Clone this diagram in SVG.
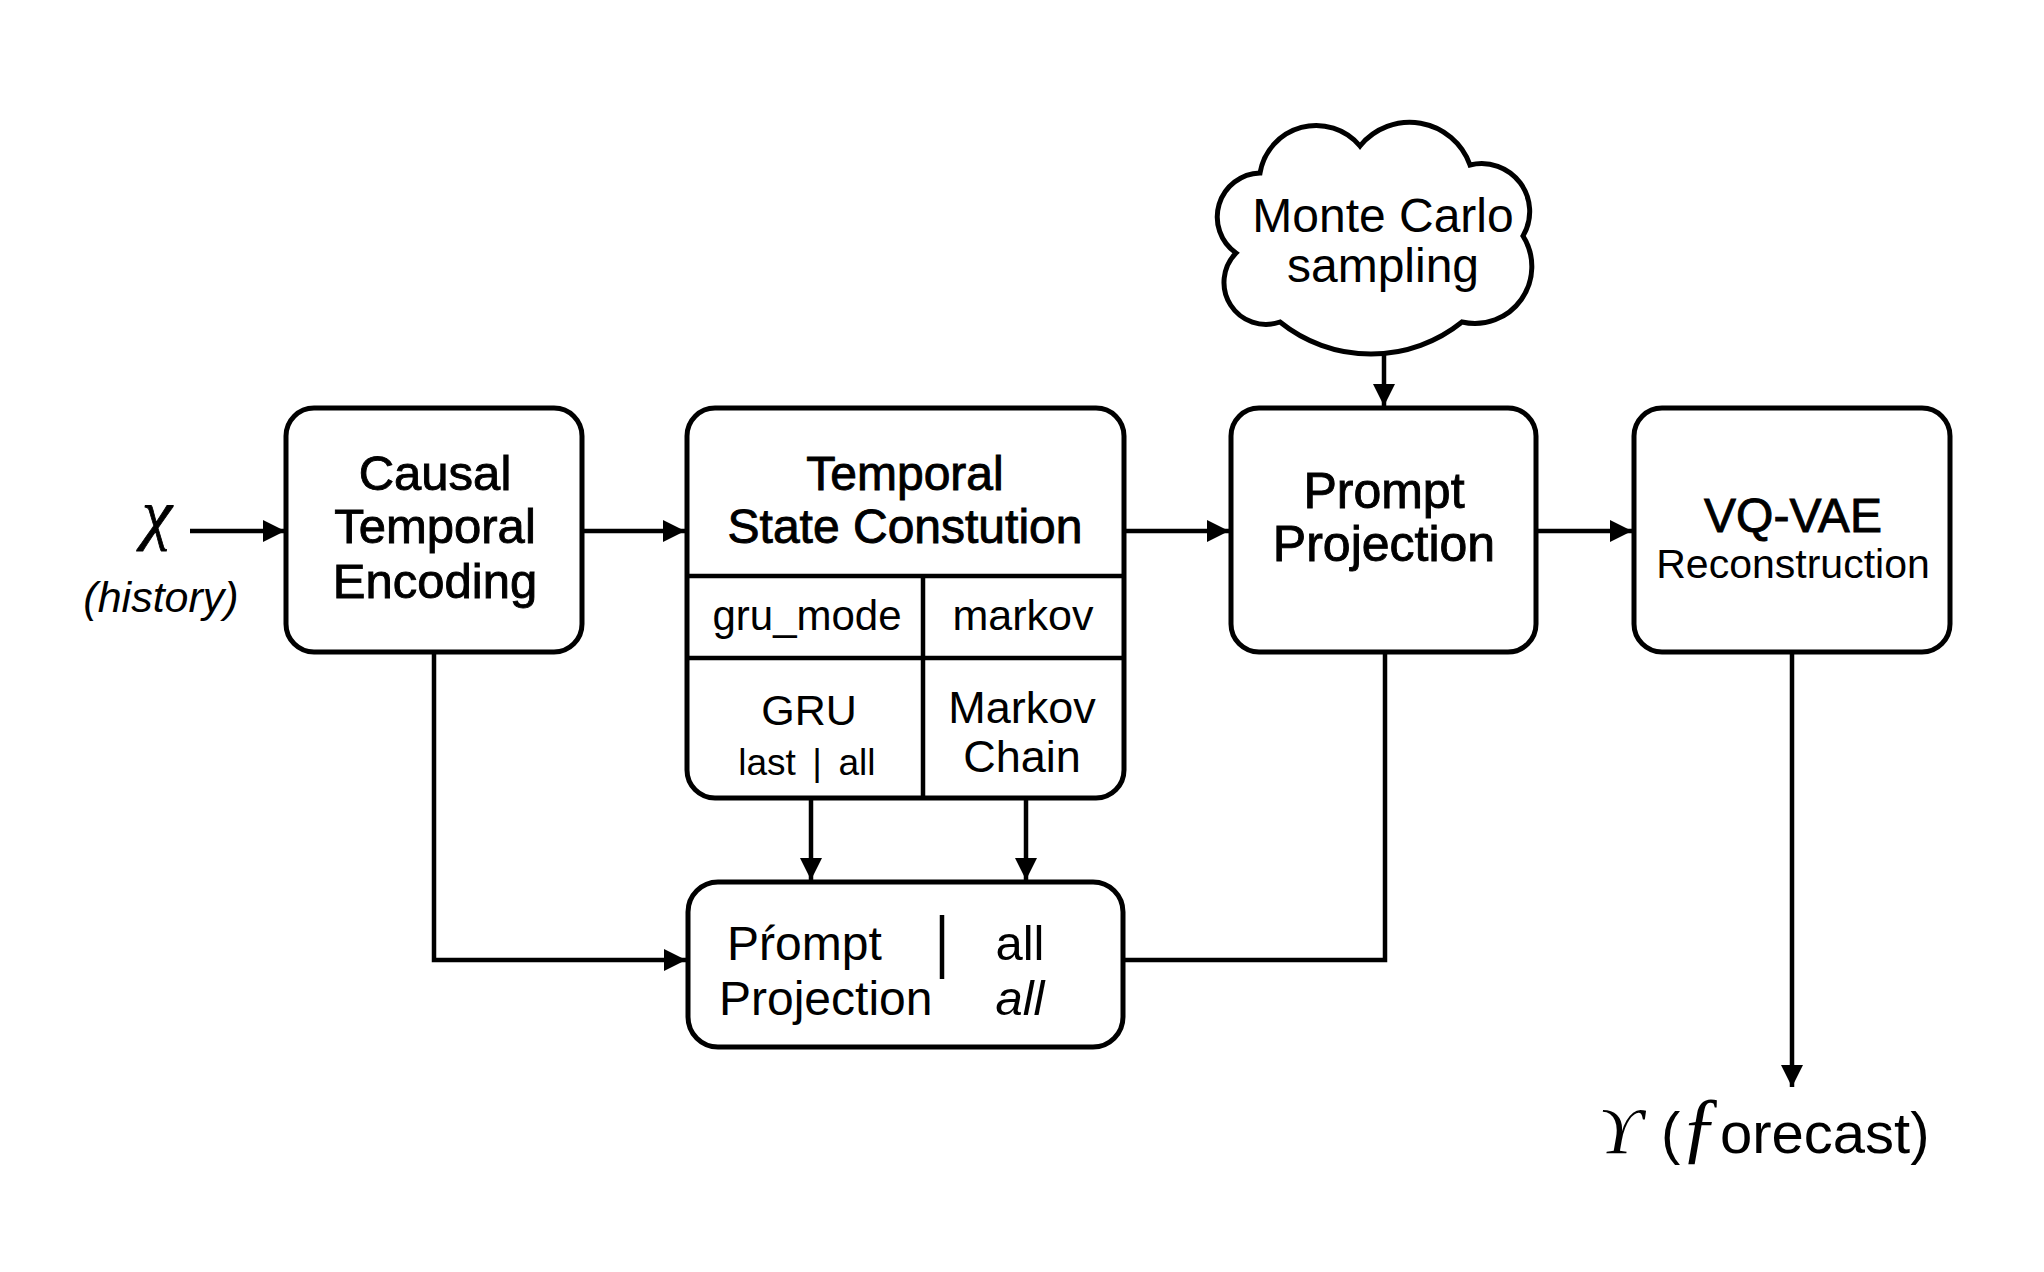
<svg xmlns="http://www.w3.org/2000/svg" width="2044" height="1272" viewBox="0 0 2044 1272">
<style>
.bx{fill:#fff;stroke:#000;stroke-width:5}
.ln{fill:none;stroke:#000;stroke-width:4.5}
.t{font-family:"Liberation Sans",Arial,sans-serif;fill:#000}
.m{text-anchor:middle}
.h{stroke:#000;stroke-width:0.9}
.s{font-family:"Liberation Serif","DejaVu Serif",serif;font-style:italic;fill:#000}
</style>
<defs>
<marker id="ah" markerUnits="userSpaceOnUse" markerWidth="22" markerHeight="22" refX="22" refY="11" orient="auto">
<path d="M0,0 L22,11 L0,22 z" fill="#000"/>
</marker>
</defs>
<rect width="2044" height="1272" fill="#fff"/>

<g id="connectors">
<path class="ln" d="M190,531 H285" marker-end="url(#ah)"/>
<path class="ln" d="M583,531 H685" marker-end="url(#ah)"/>
<path class="ln" d="M1126,531 H1229" marker-end="url(#ah)"/>
<path class="ln" d="M1538,531 H1632" marker-end="url(#ah)"/>
<path class="ln" d="M1384,355 V406" marker-end="url(#ah)"/>
<path class="ln" d="M811,798 V880" marker-end="url(#ah)"/>
<path class="ln" d="M1026,798 V880" marker-end="url(#ah)"/>
<path class="ln" d="M434,652 V960 H686" marker-end="url(#ah)"/>
<path class="ln" d="M1124,960 H1385 V652"/>
<path class="ln" d="M1792,652 V1087" marker-end="url(#ah)"/>
</g>

<g id="input">
<text class="s m" x="157" y="537" font-size="68" stroke="#000" stroke-width="0.8">χ</text>
<text class="t m" x="161" y="612" font-size="43" font-style="italic">(history)</text>
</g>

<g id="causal">
<rect class="bx" x="286" y="408" width="296" height="244" rx="28"/>
<text class="t m h" x="435" y="490" font-size="49">Causal</text>
<text class="t m h" x="435" y="543" font-size="49">Temporal</text>
<text class="t m h" x="435" y="598" font-size="49">Encoding</text>
</g>

<g id="temporal-state">
<rect class="bx" x="687" y="408" width="437" height="390" rx="28"/>
<path class="ln" d="M687,576 H1124 M687,658 H1124 M923,576 V798"/>
<text class="t m h" x="905" y="490" font-size="48">Temporal</text>
<text class="t m h" x="905" y="543" font-size="48">State Constution</text>
<text class="t m" x="807" y="630" font-size="42">gru_mode</text>
<text class="t m" x="1023" y="630" font-size="43">markov</text>
<text class="t m" x="809" y="725" font-size="43">GRU</text>
<text class="t m" x="767" y="775" font-size="37">last</text>
<text class="t m" x="817" y="775" font-size="37">|</text>
<text class="t m" x="857" y="775" font-size="37">all</text>
<text class="t m" x="1022" y="723" font-size="45">Markov</text>
<text class="t m" x="1022" y="772" font-size="45">Chain</text>
</g>

<g id="prompt-bottom">
<rect class="bx" x="688" y="882" width="435" height="165" rx="30"/>
<text class="t" x="727" y="960" font-size="48">Pŕompt</text>
<text class="t" x="719" y="1015" font-size="48">Projection</text>
<path class="ln" d="M942,915 V979" stroke-width="3.5"/>
<text class="t m" x="1020" y="960" font-size="49">all</text>
<text class="t m" x="1020" y="1015" font-size="49" font-style="italic">all</text>
</g>

<g id="cloud">
<path class="bx" d="M1260,173 A57,57 0 0 1 1360,146 A64,64 0 0 1 1470,165 A48,48 0 0 1 1523,236 A57,57 0 0 1 1462,322 A145,145 0 0 1 1280,322 A42,42 0 0 1 1236,253 A44,44 0 0 1 1260,173 Z"/>
<text class="t m" x="1383" y="232" font-size="48">Monte Carlo</text>
<text class="t m" x="1383" y="282" font-size="48">sampling</text>
</g>

<g id="prompt-projection">
<rect class="bx" x="1231" y="408" width="305" height="244" rx="28"/>
<text class="t m h" x="1384" y="508" font-size="50">Prompt</text>
<text class="t m h" x="1384" y="561" font-size="50">Projection</text>
</g>

<g id="vqvae">
<rect class="bx" x="1634" y="408" width="316" height="244" rx="28"/>
<text class="t m h" x="1793" y="532" font-size="48">VQ-VAE</text>
<text class="t m" x="1793" y="578" font-size="41">Reconstruction</text>
</g>

<g id="output">
<text class="s" x="1599" y="1153" font-size="66">ϒ</text>
<text class="t" x="1661" y="1153" font-size="58">(</text>
<text class="s" x="1680" y="1153" font-size="80">ƒ</text>
<text class="t" x="1720" y="1153" font-size="58">orecast)</text>
</g>
</svg>
